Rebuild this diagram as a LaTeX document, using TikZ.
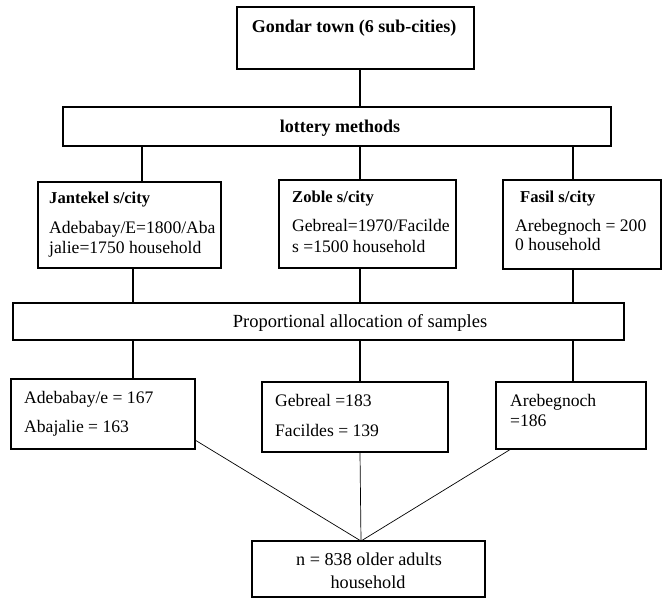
\documentclass[tikz,border=0pt]{standalone}
\usepackage{fontspec}
\setmainfont{Liberation Serif}
\begin{document}
\begin{tikzpicture}[x=1pt,y=-1pt,
  box/.style={draw,line width=1.6pt,inner sep=0pt,rectangle},
  conn/.style={line width=1.6pt},
  thin/.style={line width=0.7pt},
  txt/.style={inner sep=0pt,anchor=base west,font=\fontsize{17.6}{20}\selectfont},
  ttl/.style={inner sep=0pt,anchor=base west,font=\fontsize{16.6}{19}\selectfont\bfseries},
  ctxt/.style={inner sep=0pt,anchor=base,font=\fontsize{18.5}{21}\selectfont},
  ctxtb/.style={inner sep=0pt,anchor=base,font=\fontsize{18}{21}\selectfont\bfseries},
]
\useasboundingbox (0,0) rectangle (669,605);
% boxes
\node[box,minimum width=237pt,minimum height=62pt] (top) at (355.5,38) {};
\node[box,minimum width=548pt,minimum height=39pt] (lot) at (337,126.5) {};
\node[box,minimum width=183pt,minimum height=86pt] (jan) at (129.5,225) {};
\node[box,minimum width=177pt,minimum height=88pt] (zob) at (367.5,224) {};
\node[box,minimum width=158pt,minimum height=89pt] (fas) at (582,224.5) {};
\node[box,minimum width=611pt,minimum height=37pt] (prop) at (318.5,321.5) {};
\node[box,minimum width=184pt,minimum height=70pt] (lb) at (103,414) {};
\node[box,minimum width=186pt,minimum height=70pt] (mb) at (355,417) {};
\node[box,minimum width=150pt,minimum height=67pt] (rb) at (571,415.5) {};
\node[box,minimum width=233pt,minimum height=56pt] (bot) at (368.5,569) {};
% texts
\node[ctxtb] (tTop) at (354,32) {Gondar town (6 sub-cities)};
\node[ctxtb] (tLot) at (340,132) {lottery methods};
\node[ttl] (tJan1) at (49,203) {Jantekel s/city};
\node[txt] (tJan2) at (49,233) {Adebabay/E=1800/Aba};
\node[txt] (tJan3) at (49,253) {jalie=1750 household};
\node[ttl] (tZob1) at (292,202) {Zoble s/city};
\node[txt] (tZob2) at (292,231) {Gebreal=1970/Facilde};
\node[txt] (tZob3) at (292,252) {s =1500 household};
\node[ttl] (tFas1) at (520,202) {Fasil s/city};
\node[txt] (tFas2) at (515,231) {Arebegnoch = 200};
\node[txt] (tFas3) at (515,250) {0 household};
\node[ctxt] (tProp) at (360,327) {Proportional allocation of samples};
\node[txt] (tL1) at (24,403) {Adebabay/e = 167};
\node[txt] (tL2) at (24,432) {Abajalie = 163};
\node[txt] (tM1) at (275,406) {Gebreal =183};
\node[txt] (tM2) at (275,436) {Facildes = 139};
\node[txt] (tR1) at (510,406) {Arebegnoch};
\node[txt] (tR2) at (510,426) {=186};
\node[inner sep=0pt,anchor=base,font=\fontsize{18.2}{21}\selectfont] (tB1) at (369,565) {n = 838 older adults};
\node[inner sep=0pt,anchor=base,font=\fontsize{18.2}{21}\selectfont] (tB2) at (368,588) {household};
% column coordinates
\coordinate (cA1) at (142,0);
\coordinate (cA) at (133,0);
\coordinate (cB) at (360,0);
\coordinate (cC) at (573,0);
% thick connectors
\draw[conn] (top.south -| cB) -- (lot.north -| cB);
\draw[conn] (lot.south -| cA1) -- (jan.north -| cA1);
\draw[conn] (lot.south -| cB) -- (zob.north -| cB);
\draw[conn] (lot.south -| cC) -- (fas.north -| cC);
\draw[conn] (jan.south -| cA) -- (prop.north -| cA);
\draw[conn] (zob.south -| cB) -- (prop.north -| cB);
\draw[conn] (fas.south -| cC) -- (prop.north -| cC);
\draw[conn] (prop.south -| cA) -- (lb.north -| cA);
\draw[conn] (prop.south -| cB) -- (mb.north -| cB);
\draw[conn] (prop.south -| cC) -- (rb.north -| cC);
% thin converging lines
\coordinate (apex) at (361,541);
\coordinate (lOut) at (195,440);
\coordinate (rOut) at (511,449);
\draw[thin] (lOut) -- (apex);
\draw[thin] (mb.south -| cB) -- (apex);
\draw[thin] (rOut) -- (apex);
\end{tikzpicture}
\end{document}
